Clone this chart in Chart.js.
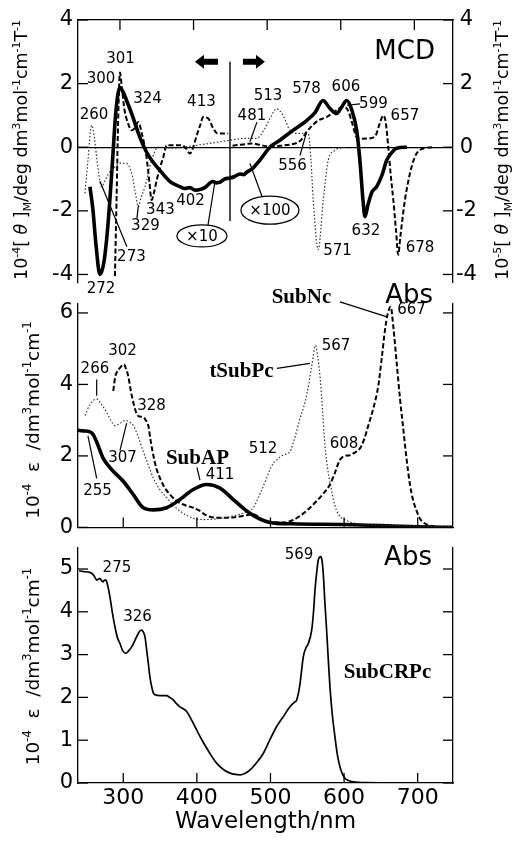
<!DOCTYPE html>
<html><head><meta charset="utf-8">
<script src="https://cdn.jsdelivr.net/npm/chart.js@4.4.1/dist/chart.umd.min.js"></script>
<style>
html,body{margin:0;padding:0;background:#fff;}
#wrap{position:relative;width:515px;height:844px;overflow:hidden;background:#fff;}
canvas{position:absolute;left:0;}
</style></head><body>
<div id="wrap">
<canvas id="cMCD" width="515" height="300" style="top:0px;width:515px;height:300px"></canvas>
<canvas id="cAbs1" width="515" height="280" style="top:265px;width:515px;height:280px"></canvas>
<canvas id="cAbs2" width="515" height="314" style="top:530px;width:515px;height:314px"></canvas>
</div>
<script>
// ---------------- DATA ----------------
const xTicks = [300, 400, 500, 600, 700];
const mcdYTicks = [-4, -2, 0, 2, 4];
const abs1YTicks = [0, 2, 4, 6];
const abs2YTicks = [0, 1, 2, 3, 4, 5];

// MCD panel  [wavelength nm, value]
const mcdSubAP = [[259.2,-1.24],[263.3,-1.97],[267.4,-3.06],[272.8,-4.0],[278.3,-3.6],[283.7,-2.44],[289.1,-0.72],[294.6,1.16],[300,1.88],[305,1.7],[309,1.47],[316,1.05],[327,0.32],[338.5,-0.25],[354,-0.72],[368,-1.08],[381.5,-1.24],[388,-1.3],[395,-1.27],[402,-1.35],[410,-1.32],[416,-1.26],[421,-1.15],[426,-1.08],[431,-1.12],[436,-1.1],[442,-1.0],[449.5,-0.97],[456,-0.92],[463,-0.84],[468,-0.86],[472.6,-0.78],[480.7,-0.66],[490,-0.41],[503.8,0],[517.4,0.22],[535,0.53],[553.7,0.84],[565,1.09],[575.8,1.47],[585.3,1.22],[594.4,1.06],[601.6,1.28],[608,1.47],[615.2,1.16],[621.6,0.53],[626,-0.41],[630.2,-1.66],[632.9,-2.18],[637,-1.81],[642.4,-1.41],[648.8,-1.24],[656,-0.88],[662.4,-0.41],[669.6,-0.16],[676,-0.03],[690,0]];
const mcdSubNcUV = [[293.2,-4.05],[295.5,-1.5],[297.5,0.8],[300,2.35],[302.5,1.9],[306,1.2],[311,0.75],[316,0.53],[320,0.6],[325,0.79],[329,0.5],[336,-0.3],[340,-1.1],[343,-1.66],[346.5,-1.4],[350,-1.03],[355,-0.6],[359,-0.3],[363.4,0.06],[372,0.06],[384,0.06],[390,-0.05],[395,-0.2],[399.6,0],[404,0.35],[409,0.69],[413,0.95],[420,0.9],[427,0.58],[433,0.43],[447,0.43]];
const mcdSubNcVis = [[453,0.05],[465,0.08],[480,0.12],[492,0.06],[505,0.02],[520,0.05],[535,0.1],[545,0.2],[553.7,0.48],[562,0.7],[570,0.85],[580.8,0.95],[594.4,1.16],[600,1.25],[605.7,1.26],[610,1.15],[615,0.8],[621.6,0.32],[628,0.27],[640,0.28],[648,0.4],[653,0.75],[657.8,1.0],[661,0.8],[664.6,0],[668,-0.9],[671.4,-1.66],[675,-2.6],[678.1,-3.38],[681,-2.8],[687.2,-1.66],[696.3,-0.61],[703,-0.2],[712,-0.04],[725,0]];
const mcdTSubPc = [[252.4,-1.45],[256.5,-0.41],[261.5,0.69],[264.7,0.38],[268.3,-0.3],[271.5,-0.88],[275.1,-1.24],[278.3,-1.13],[282,-0.93],[287.8,-0.72],[293.2,-0.62],[300,-0.5],[309,-0.51],[315.9,-0.82],[320.4,-1.34],[324.9,-1.87],[328.5,-1.59],[334,-1.24],[343,-0.41],[352,0],[372,-0.03],[395,0.03],[422,0.12],[449.5,0.22],[470,0.28],[485.7,0.28],[497,0.6],[503.8,0.9],[512.9,1.21],[521.5,1.0],[531,0.53],[540,0.43],[548.6,0.44],[555.8,0.43],[559.5,-0.41],[562.6,-1.66],[569.4,-3.22],[576.2,-1.66],[583,-0.41],[592,-0.1],[605.7,0]];

// Absorption panel 1
const absSubAP = [[238.5,2.72],[245,2.7],[254.8,2.67],[259,2.6],[263.9,2.39],[272.8,1.93],[286.4,1.57],[300,1.29],[313.6,0.92],[327.2,0.55],[340.8,0.49],[359,0.55],[377,0.78],[395.1,1.06],[413.3,1.2],[431.4,1.1],[449.5,0.78],[467.7,0.46],[485.7,0.23],[499.3,0.14],[530,0.1],[600,0.08],[650,0.05],[700,0.02],[748,0]];
const absTSubPc = [[248,3.13],[255,3.45],[263.9,3.59],[270,3.45],[277.4,3.22],[283,3.0],[288.7,2.85],[295,2.9],[302.3,2.99],[308,2.95],[313.6,2.85],[320,2.55],[327.2,2.12],[334,1.75],[340.8,1.38],[349,1.08],[359,0.83],[368,0.62],[377,0.46],[388,0.32],[399.7,0.23],[410,0.22],[422.3,0.23],[435,0.26],[449.5,0.32],[463,0.4],[476.6,0.55],[485,0.9],[494.8,1.38],[501,1.7],[508.4,1.89],[517,2.02],[526.5,2.12],[533,2.5],[540,3.04],[546.9,3.5],[552,4.0],[556,4.51],[561.4,5.09],[564,4.8],[567.3,4.23],[571,3.2],[574,2.3],[578,1.6],[583.2,1.01],[587,0.65],[592.1,0.37],[603.5,0.19],[620,0.1],[650,0.06],[700,0.04],[748,0.02]];
const absSubNc = [[286.4,3.82],[289,4.2],[291,4.33],[295,4.45],[301,4.56],[303.5,4.45],[306.8,4.23],[310,3.85],[313.6,3.5],[318.2,3.18],[322,3.1],[327.2,3.09],[330.5,3.0],[334,2.85],[337,2.45],[340.8,2.02],[345,1.65],[349.9,1.38],[356,1.12],[363.4,0.92],[372,0.75],[381.5,0.64],[395.1,0.55],[404.2,0.46],[411,0.36],[417.8,0.3],[430,0.27],[449.5,0.28],[465,0.33],[476.6,0.37],[490,0.2],[499.3,0.14],[517.4,0.14],[530,0.2],[540,0.32],[551,0.5],[562.8,0.74],[572,0.95],[580.8,1.2],[587,1.5],[594.4,1.89],[601,2.0],[608,2.02],[615,2.1],[621.6,2.21],[627,2.45],[632.9,2.85],[640,3.35],[646.5,3.96],[651,4.7],[655.6,5.52],[659,5.95],[663.3,6.17],[667,5.6],[671.5,4.6],[676,3.6],[680.4,2.76],[685,1.9],[689.5,1.2],[694,0.75],[698.6,0.46],[703,0.25],[707.6,0.14],[716.7,0.05],[730,0.01],[748,0]];

// Absorption panel 2
const absSubCRPc = [[240,4.96],[245.7,4.94],[252,4.93],[257.1,4.9],[261,4.82],[263.9,4.74],[266,4.76],[268.3,4.78],[270.5,4.73],[272.8,4.7],[274.5,4.74],[276.5,4.74],[279,4.6],[281.9,4.35],[285,4.0],[288.7,3.65],[292,3.4],[295.5,3.26],[299,3.1],[303.7,3.03],[307,3.08],[311.4,3.18],[315,3.3],[318.2,3.42],[321.5,3.53],[325,3.57],[327.5,3.52],[329.5,3.42],[331.5,3.15],[334,2.8],[336,2.5],[338.6,2.25],[341,2.1],[343.1,2.06],[350,2.04],[359,2.04],[363,2.0],[367.9,1.94],[372,1.86],[377,1.78],[382,1.73],[386.1,1.67],[392,1.5],[399.7,1.24],[408,0.97],[417.8,0.69],[425,0.5],[431.4,0.38],[438,0.29],[445,0.23],[452,0.2],[458.6,0.19],[465,0.22],[472,0.3],[480,0.45],[490.2,0.69],[499,1.0],[508.4,1.32],[517.4,1.55],[526.5,1.78],[532,1.88],[535.6,1.94],[540,2.3],[544.6,2.95],[548,3.15],[551.4,3.26],[556,3.57],[558.5,4.0],[560.5,4.51],[563,4.95],[565,5.21],[568.2,5.29],[570,5.2],[571.7,4.9],[574,4.2],[576.3,3.57],[578.5,2.9],[580.8,2.25],[584,1.6],[587.6,1.08],[591,0.65],[594.4,0.38],[598,0.2],[601.2,0.11],[606,0.06],[612.5,0.03],[630,0.01],[748,0]];

// peak labels [text, wavelength, value]
const mcdPeakLabels = [["300",274.2,2.13],["301",300.7,2.76],["260",264.7,1.01],["324",337.4,1.51],["413",410.7,1.42],["481",479.3,0.98],["513",501.1,1.6],["578",553.4,1.82],["606",607,1.88],["599",644.4,1.36],["657",687.2,0.98],["556",534.4,-0.58],["343",355,-1.98],["329",334.6,-2.48],["402",395.8,-1.7],["273",315.6,-3.47],["272",274.2,-4.47],["571",595.5,-3.26],["632",634.2,-2.63],["678",707.6,-3.16]];
const abs1PeakLabels = [["667",691.6,6.08],["302",298.9,4.92],["266",261.5,4.42],["328",338.3,3.4],["567",589,5.06],["307",298.9,1.93],["411",431.4,1.46],["255",265,1.01],["512",489.8,2.2],["608",599.9,2.34]];
const abs2PeakLabels = [["275",291.4,5.02],["326",319.3,3.88],["569",538.7,5.33]];

// ---------------- STYLE / HELPERS ----------------
const SANS = "'DejaVu Sans', 'Liberation Sans', sans-serif";
const SERIF = "'Liberation Serif', 'DejaVu Serif', serif";
const toXY = a => a.map(p => ({x: p[0], y: p[1]}));

function line(data, style) {
  return Object.assign({data: toXY(data), borderColor: '#000', pointRadius: 0, fill: false,
    cubicInterpolationMode: 'monotone', borderJoinStyle: 'round', spanGaps: false}, style);
}
const thick = {borderWidth: 3.6};
const dashed = {borderWidth: 2, borderDash: [5, 2.5]};
const dotted = {borderWidth: 1.2, borderDash: [1.5, 2], borderColor: '#333'};

function drawRich(ctx, segs, cx, cy, size) {
  const parts = segs.map(s => {
    const sz = (s.sup || s.sub) ? size * 0.62 : size;
    const f = (s.it ? 'italic ' : '') + sz + 'px ' + SANS;
    ctx.font = f;
    return {s, f, w: ctx.measureText(s.t).width};
  });
  const total = parts.reduce((a, p) => a + p.w, 0);
  ctx.save();
  ctx.translate(cx, cy);
  ctx.rotate(-Math.PI / 2);
  ctx.textAlign = 'left'; ctx.textBaseline = 'alphabetic'; ctx.fillStyle = '#000';
  let x = -total / 2;
  const base = size * 0.36;
  for (const p of parts) {
    ctx.font = p.f;
    let dy = base;
    if (p.s.sup) dy -= size * 0.42;
    if (p.s.sub) dy += size * 0.2;
    ctx.fillText(p.s.t, x, dy);
    x += p.w;
  }
  ctx.restore();
}

const annoPlugin = {
  id: 'anno',
  afterDraw(chart, args, opts) {
    const ctx = chart.ctx, sx = chart.scales.x, sy = chart.scales.y;
    const P = (x, y) => [sx.getPixelForValue(x), sy.getPixelForValue(y)];
    ctx.save();
    ctx.fillStyle = '#000'; ctx.strokeStyle = '#000';
    for (const a of (opts.items || [])) {
      if (a.type === 'text') {
        const [X, Y] = P(a.x, a.y);
        ctx.font = a.font; ctx.textAlign = a.align || 'center'; ctx.textBaseline = 'middle';
        ctx.fillText(a.t, X, Y);
      } else if (a.type === 'line') {
        const [X1, Y1] = P(a.x1, a.y1), [X2, Y2] = P(a.x2, a.y2);
        ctx.lineWidth = a.w || 1.2; ctx.beginPath(); ctx.moveTo(X1, Y1); ctx.lineTo(X2, Y2); ctx.stroke();
      } else if (a.type === 'ellipse') {
        const [X, Y] = P(a.x, a.y);
        ctx.lineWidth = 1.3; ctx.beginPath(); ctx.ellipse(X, Y, a.rx, a.ry, 0, 0, Math.PI * 2); ctx.stroke();
        ctx.font = a.font; ctx.textAlign = 'center'; ctx.textBaseline = 'middle';
        ctx.fillText(a.t, X, Y + 1);
      } else if (a.type === 'arrow') {
        const [X1, Y] = P(a.x1, a.y), [X2] = P(a.x2, a.y);
        const d = Math.sign(X2 - X1), hl = 9, hw = 7, sw = 3;
        ctx.beginPath();
        ctx.moveTo(X1, Y - sw); ctx.lineTo(X2 - d * hl, Y - sw); ctx.lineTo(X2 - d * hl, Y - hw);
        ctx.lineTo(X2, Y); ctx.lineTo(X2 - d * hl, Y + hw); ctx.lineTo(X2 - d * hl, Y + sw);
        ctx.lineTo(X1, Y + sw); ctx.closePath(); ctx.fill();
      }
    }
    for (const t of (opts.titles || [])) drawRich(ctx, t.segs, t.cx, t.cy, t.size);
    // inside tick marks
    const ca = chart.chartArea, len = opts.tickLen || 10;
    ctx.lineWidth = 1.3;
    for (const id of (opts.tickScales || [])) {
      const s = chart.scales[id];
      for (const tk of s.ticks) {
        const p = s.getPixelForValue(tk.value);
        ctx.beginPath();
        if (s.isHorizontal()) {
          const y0 = s.position === 'top' ? ca.top : ca.bottom, d = s.position === 'top' ? 1 : -1;
          ctx.moveTo(p, y0); ctx.lineTo(p, y0 + d * len);
        } else {
          const x0 = s.position === 'left' ? ca.left : ca.right, d = s.position === 'left' ? 1 : -1;
          ctx.moveTo(x0, p); ctx.lineTo(x0 + d * len, p);
        }
        ctx.stroke();
      }
    }
    ctx.restore();
  }
};

const numFont = '15px ' + SANS;
const bigFont = '26px ' + SANS;
const nameFont = 'bold 21px ' + SERIF;
const labelItems = arr => arr.map(l => ({type: 'text', t: l[0], x: l[1], y: l[2], font: numFont}));

const yTitleTheta = exp => [{t:'10'},{t:exp,sup:1},{t:'[ '},{t:'θ',it:1},{t:' ]'},{t:'M',sub:1},{t:'/deg dm'},{t:'3',sup:1},{t:'mol'},{t:'-1',sup:1},{t:'cm'},{t:'-1',sup:1},{t:'T'},{t:'-1',sup:1}];
const yTitleEps = [{t:'10'},{t:'-4',sup:1},{t:'  ε  /dm'},{t:'3',sup:1},{t:'mol'},{t:'-1',sup:1},{t:'cm'},{t:'-1',sup:1}];

const axisBorder = {display: true, color: '#000', width: 1.3};
const tickFont = {family: SANS, size: 21};
const setTicks = arr => s => { s.ticks = arr.map(v => ({value: v})); };

function baseOptions(o) {
  return {
    responsive: false, animation: false, devicePixelRatio: 1,
    layout: {autoPadding: false, padding: o.padding},
    plugins: {legend: {display: false}, tooltip: {enabled: false}, anno: o.anno},
    scales: o.scales
  };
}

// ---------------- MCD PANEL ----------------
new Chart(document.getElementById('cMCD'), {
  type: 'line',
  data: {datasets: [
    line(mcdTSubPc, dotted),
    line(mcdSubNcUV, dashed),
    line(mcdSubNcVis, dashed),
    line(mcdSubAP, thick)
  ]},
  options: baseOptions({
    padding: {left: 0, right: 0, top: 20, bottom: 15},
    scales: {
      x: {type: 'linear', position: 'top', min: 243, max: 752.5,
          ticks: {display: false}, grid: {display: false, drawTicks: false}, border: axisBorder,
          afterBuildTicks: setTicks(xTicks), afterFit: s => { s.height = 0; }},
      y: {type: 'linear', position: 'left', min: -4.25, max: 4,
          ticks: {font: tickFont, color: '#000', padding: 5},
          grid: {drawTicks: false, lineWidth: 1.2, color: c => (c.tick && c.tick.value === 0) ? '#000' : 'rgba(0,0,0,0)'},
          border: axisBorder, afterBuildTicks: setTicks(mcdYTicks), afterFit: s => { s.width = 78; }},
      y2: {type: 'linear', position: 'right', min: -4.25, max: 4,
          ticks: {font: tickFont, color: '#000', padding: 3, crossAlign: 'center'},
          grid: {display: false, drawTicks: false}, border: axisBorder,
          afterBuildTicks: setTicks(mcdYTicks), afterFit: s => { s.width = 62; }}
    },
    anno: {
      tickScales: ['x', 'y', 'y2'],
      titles: [{segs: yTitleTheta('-4'), cx: 21, cy: 150, size: 17.5},
               {segs: yTitleTheta('-5'), cx: 502, cy: 150, size: 17.5}],
      items: [
        {type: 'text', t: 'MCD', x: 728, y: 3.0, font: bigFont, align: 'right'},
        ...labelItems(mcdPeakLabels),
        {type: 'line', x1: 608.4, y1: 1.32, x2: 626.1, y2: 1.36},
        {type: 'line', x1: 544.6, y1: -0.26, x2: 553.7, y2: 0.48},
        {type: 'line', x1: 325.1, y1: -1.82, x2: 323.1, y2: -2.23},
        {type: 'line', x1: 272.8, y1: -1.07, x2: 309.5, y2: -3.13},
        {type: 'line', x1: 486.1, y1: 0.79, x2: 476.6, y2: 0.17},
        {type: 'line', x1: 419.6, y1: -2.45, x2: 429.1, y2: -1.07},
        {type: 'line', x1: 492.9, y1: -1.54, x2: 476.6, y2: -0.51},
        {type: 'line', x1: 449.5, y1: 2.69, x2: 449.5, y2: -2.32, w: 1.4},
        {type: 'ellipse', t: '×10', x: 411.4, y: -2.79, rx: 25, ry: 11, font: numFont},
        {type: 'ellipse', t: '×100', x: 503.8, y: -1.98, rx: 29, ry: 14, font: numFont},
        {type: 'arrow', x1: 433.2, x2: 401.9, y: 2.69},
        {type: 'arrow', x1: 467.1, x2: 497, y: 2.69}
      ]
    }
  }),
  plugins: [annoPlugin]
});

// ---------------- ABS PANEL 1 ----------------
new Chart(document.getElementById('cAbs1'), {
  type: 'line',
  data: {datasets: [
    line(absTSubPc, dotted),
    line(absSubNc, dashed),
    line(absSubAP, thick)
  ]},
  options: baseOptions({
    padding: {left: 0, right: 0, top: 39, bottom: 15.5},
    scales: {
      x: {type: 'linear', position: 'bottom', min: 238.5, max: 748,
          ticks: {display: false}, grid: {display: false, drawTicks: false}, border: axisBorder,
          afterBuildTicks: setTicks(xTicks), afterFit: s => { s.height = 0; }},
      y: {type: 'linear', position: 'left', min: 0, max: 6.25,
          ticks: {font: tickFont, color: '#000', padding: 5},
          grid: {display: false, drawTicks: false}, border: axisBorder,
          afterBuildTicks: setTicks(abs1YTicks), afterFit: s => { s.width = 78; }},
      y2: {type: 'linear', position: 'right', min: 0, max: 6.25,
          ticks: {display: false}, grid: {display: false, drawTicks: false}, border: axisBorder,
          afterBuildTicks: setTicks(abs1YTicks), afterFit: s => { s.width = 62; }}
    },
    anno: {
      tickScales: ['x', 'y', 'y2'],
      titles: [{segs: yTitleEps, cx: 32, cy: 155, size: 18.5}],
      items: [
        {type: 'text', t: 'Abs', x: 720.8, y: 6.47, font: bigFont, align: 'right'},
        {type: 'text', t: 'SubNc', x: 542.1, y: 6.44, font: nameFont},
        {type: 'line', x1: 594.4, y1: 6.31, x2: 658.3, y2: 5.89},
        {type: 'text', t: 'tSubPc', x: 460.6, y: 4.37, font: nameFont},
        {type: 'line', x1: 508.8, y1: 4.45, x2: 553.7, y2: 4.59},
        {type: 'text', t: 'SubAP', x: 400.8, y: 1.93, font: nameFont},
        ...labelItems(abs1PeakLabels),
        {type: 'line', x1: 263.9, y1: 4.14, x2: 263.9, y2: 3.68},
        {type: 'line', x1: 295.5, y1: 2.15, x2: 304.6, y2: 2.92},
        {type: 'line', x1: 400.1, y1: 1.68, x2: 404.2, y2: 1.32},
        {type: 'line', x1: 252, y1: 2.56, x2: 263.9, y2: 1.37}
      ]
    }
  }),
  plugins: [annoPlugin]
});

// ---------------- ABS PANEL 2 ----------------
new Chart(document.getElementById('cAbs2'), {
  type: 'line',
  data: {datasets: [
    line(absSubCRPc, {borderWidth: 1.7})
  ]},
  options: baseOptions({
    padding: {left: 0, right: 0, top: 17.6, bottom: 0},
    scales: {
      x: {type: 'linear', position: 'bottom', min: 238.5, max: 748,
          ticks: {font: {family: SANS, size: 22}, color: '#000', padding: 2, maxRotation: 0, autoSkip: false},
          grid: {display: false, drawTicks: false}, border: axisBorder,
          title: {display: true, text: 'Wavelength/nm', color: '#000', font: {family: SANS, size: 23}, padding: {top: 0, bottom: 8}},
          afterBuildTicks: setTicks(xTicks), afterFit: s => { s.height = 61; }},
      y: {type: 'linear', position: 'left', min: 0, max: 5.5,
          ticks: {font: tickFont, color: '#000', padding: 5},
          grid: {display: false, drawTicks: false}, border: axisBorder,
          afterBuildTicks: setTicks(abs2YTicks), afterFit: s => { s.width = 78; }},
      y2: {type: 'linear', position: 'right', min: 0, max: 5.5,
          ticks: {display: false}, grid: {display: false, drawTicks: false}, border: axisBorder,
          afterBuildTicks: setTicks(abs2YTicks), afterFit: s => { s.width = 62; }}
    },
    anno: {
      tickScales: ['x', 'y', 'y2'],
      titles: [{segs: yTitleEps, cx: 32, cy: 136.5, size: 18.5}],
      items: [
        {type: 'text', t: 'Abs', x: 719.4, y: 5.26, font: bigFont, align: 'right'},
        {type: 'text', t: 'SubCRPc', x: 659, y: 2.59, font: nameFont},
        ...labelItems(abs2PeakLabels)
      ]
    }
  }),
  plugins: [annoPlugin]
});
</script>
</body></html>
